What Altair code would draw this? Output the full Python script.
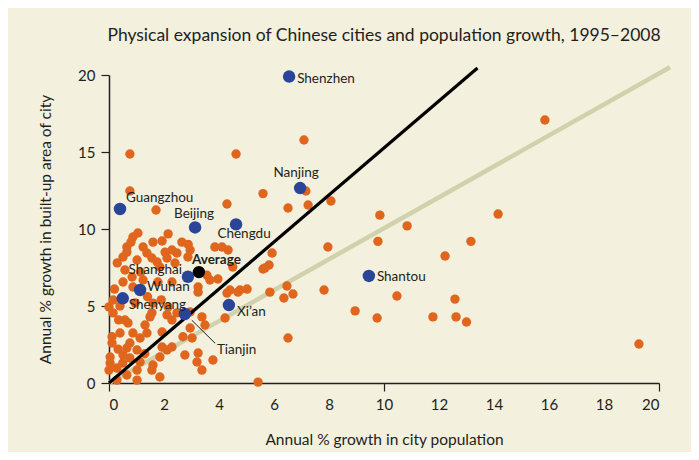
import altair as alt
import pandas as pd

# ---------------- data ----------------
orange_x = [7.09, 7.16, 6.51, 7.24, 8.07, 9.85, 10.84, 9.78, 7.96, 13.16, 12.22, 6.47, 6.69, 6.36, 7.82,
            10.47, 12.58, 8.95, 9.75, 11.78, 12.62, 13.0, 6.51, 15.85, 14.15, 19.27, 4.62, 5.6, 5.93, 5.82,
            5.6, 5.02, 4.76, 5.85, 5.42, 0.76, 0.76, 1.71, 4.29,
            1.05, 0.87, 0.8, 0.65, 0.65, 0.51, 1.24, 1.6, 2.15, 1.93, 2.65, 2.04, 2.29, 2.47, 1.38, 1.56,
            1.02, 1.75, 1.85, 2.11, 2.4, 0.58, 0.84, 0.51, 1.24, 1.78, 2.29, 0.87, 0.15,
            2.95, 2.87, 3.85, 4.11, 4.33, 4.5, 3.56, 3.67, 3.96, 3.24, 3.24, 4.69, 4.4, 5.67,
            0.58, 0.11, 0.11, 0.87, 1.13, 1.38, 0.76, 0.65, 1.02, 0.51, 0.04, 0.04, 0.0, 0.29, 0.76, 1.13,
            1.02, 0.65, 1.02, 0.29, 1.6, 1.56, 1.85, 1.93, 2.11, 2.29, 1.85, 2.29, 2.11, 1.93, 1.49, 1.31,
            0.69, 0.15, 0.0, 2.76, 2.69,
            3.38, 3.49, 2.95, 3.02, 3.24, 3.2, 3.78, 3.38, 4.22,
            1.56, 1.6, 2.15, 2.47, 4.29, 2.95, 0.4, 0.33, 1.3, 0.5, 0.4, 0.95, 1.4, 2.88, 0.35,
            0.3, 1.15, 1.9, 0.2]
orange_y = [15.78, 12.47, 11.36, 11.56, 11.82, 10.9, 10.2, 9.2, 8.83, 9.2, 8.25, 6.3, 5.78, 5.52, 6.04,
            5.65, 5.45, 4.68, 4.22, 4.29, 4.29, 3.96, 2.92, 17.08, 10.97, 2.53, 14.87, 12.3, 8.44, 7.66,
            7.4, 6.1, 6.04, 5.9, 0.06, 14.87, 12.47, 11.23, 11.62,
            9.74, 9.48, 9.15, 8.83, 8.5, 8.18, 8.83, 9.15, 9.68, 9.22, 9.15, 8.5, 8.64, 8.44, 8.44, 8.12,
            7.99, 7.86, 7.53, 8.12, 7.79, 7.34, 6.88, 6.56, 6.69, 6.56, 6.56, 6.23, 5.39,
            8.64, 8.18, 8.83, 8.83, 8.64, 7.53, 7.0, 6.69, 6.75, 6.23, 5.9, 5.9, 6.04, 7.47,
            4.09, 3.0, 2.6, 3.25, 2.92, 3.25, 2.6, 2.27, 2.14, 1.82, 1.69, 1.3, 0.84, 0.97, 1.62, 1.36,
            0.84, 0.52, 0.19, 0.19, 1.17, 0.84, 1.69, 2.34, 2.14, 2.34, 0.39, 4.09, 4.42, 3.31, 4.29, 3.77,
            3.9, 4.55, 4.94, 1.82, 3.0,
            4.29, 3.77, 3.57, 2.92, 1.95, 1.36, 1.49, 0.84, 4.22,
            4.55, 5.19, 4.94, 4.55, 5.84, 4.61, 3.25, 2.2, 1.9, 1.3, 5.0, 5.2, 5.6, 9.0, 4.1,
            7.8, 7.2, 5.4, 6.1]

city_names = ["Shenzhen", "Nanjing", "Guangzhou", "Beijing", "Chengdu", "Shanghai",
              "Wuhan", "Shenyang", "Xi\u2019an", "Tianjin", "Shantou"]
city_x = [6.55, 6.95, 0.4, 3.13, 4.62, 2.87, 1.13, 0.5, 4.36, 2.76, 9.45]
city_y = [19.9, 12.66, 11.3, 10.1, 10.3, 6.9, 6.04, 5.5, 5.06, 4.48, 6.95]

avg_name = ["Average"]
avg_x = [3.27]
avg_y = [7.2]

fit_x = [0, 13.4]          # black regression line end points
fit_y = [0, 20.45]
equal_x = [0, 20.4]        # equal-growth line end points
equal_y = [0, 20.5]

x_tick_labels = list(range(0, 21, 2))
y_tick_labels = [0, 5, 10, 15, 20]

# ---------------- styling ----------------
FONT = "Lato"
INK = "#231f20"
ORANGE = "#e0661e"
BLUE = "#2a4597"
BG = "#f3f0de"

orange_df = pd.DataFrame({"x": orange_x, "y": orange_y})
city_df = pd.DataFrame({"name": city_names, "x": city_x, "y": city_y})
avg_df = pd.DataFrame({"name": avg_name, "x": avg_x, "y": avg_y})
fit_df = pd.DataFrame({"x": fit_x, "y": fit_y})
eq_df = pd.DataFrame({"x": equal_x, "y": equal_y})

xscale = alt.Scale(domain=[0, 20], nice=False, zero=False)
yscale = alt.Scale(domain=[0, 20], nice=False, zero=False)

x_axis = alt.Axis(values=x_tick_labels, title="Annual % growth in city population",
                  tickSize=8, tickColor=INK, tickWidth=1.2,
                  tickOpacity={"condition": {"test": "datum.value % 10 === 0", "value": 1}, "value": 0},
                  domainColor=INK, domainWidth=1.5, labelPadding=6, labelFontSize=15,
                  labelColor=INK, labelFont=FONT, titleFont=FONT, titleFontSize=15.5,
                  titleFontWeight="normal", titleColor=INK, titlePadding=20, grid=False)
y_axis = alt.Axis(values=y_tick_labels, title="Annual % growth in built-up area of city",
                  tickSize=8, tickColor=INK, tickWidth=1.2, domainColor=INK, domainWidth=1.5,
                  labelPadding=6, labelFontSize=15, labelColor=INK, labelFont=FONT,
                  titleFont=FONT, titleFontSize=15.5, titleFontWeight="normal", titleColor=INK,
                  titlePadding=24, grid=False)


def X(field="x:Q"):
    return alt.X(field, scale=xscale, axis=x_axis)


def Y(field="y:Q"):
    return alt.Y(field, scale=yscale, axis=y_axis)


eq_line = alt.Chart(eq_df).mark_line(color="#cfd2ab", strokeWidth=4.5).encode(x=X(), y=Y())

orange = alt.Chart(orange_df).mark_circle(color=ORANGE, opacity=1, size=88).encode(x=X(), y=Y())

fit_line = alt.Chart(fit_df).mark_line(color="black", strokeWidth=3.2).encode(x=X(), y=Y())

cities = alt.Chart(city_df).mark_circle(color=BLUE, opacity=1, size=155).encode(x=X(), y=Y())
avg_pt = alt.Chart(avg_df).mark_circle(color="black", opacity=1, size=155).encode(x=X(), y=Y())

# label placement (align, dx, dy)
label_place = {
    "Shenzhen": ("left", 8, 2),
    "Nanjing": ("center", -4, -15),
    "Guangzhou": ("left", 6, -11),
    "Beijing": ("center", -1, -13),
    "Chengdu": ("center", 8, 10),
    "Shanghai": ("right", -6, -7),
    "Wuhan": ("left", 7, -3),
    "Shenyang": ("left", 6, 7),
    "Xi\u2019an": ("left", 8, 7),
    "Tianjin": ("left", 32, 36),
    "Shantou": ("left", 8, 1),
}

labels = []
for name in city_names:
    al, dx, dy = label_place[name]
    labels.append(
        alt.Chart(city_df).transform_filter(alt.datum.name == name)
        .mark_text(align=al, baseline="middle", dx=dx, dy=dy, font=FONT, fontSize=13.5, color=INK)
        .encode(x=X(), y=Y(), text="name:N")
    )

avg_label = alt.Chart(avg_df).mark_text(align="left", baseline="middle", dx=-7, dy=-12, font=FONT,
                                        fontSize=13.5, fontWeight="bold", color=INK).encode(
    x=X(), y=Y(), text="name:N")

# leader line from Tianjin to its label
leader = (alt.Chart(city_df).transform_filter(alt.datum.name == "Tianjin")
          .transform_calculate(x0="datum.x + 0.25", y0="datum.y - 0.4",
                               x1="datum.x + 1.1", y1="datum.y - 1.9")
          .mark_rule(color=INK, strokeWidth=1)
          .encode(x=X("x0:Q"), y=Y("y0:Q"), x2="x1:Q", y2="y1:Q"))

chart = alt.layer(eq_line, orange, fit_line, cities, avg_pt, leader, avg_label, *labels).properties(
    width=550, height=308,
    autosize=alt.AutoSizeParams(type="none"),
    padding={"left": 101, "top": 67, "right": 32, "bottom": 69},
    background=BG,
    title=alt.TitleParams("Physical expansion of Chinese cities and population growth, 1995\u20132008",
                          font=FONT, fontSize=17.5, fontWeight="normal", color=INK, anchor="middle",
                          offset=14),
).configure_view(stroke=None)

chart.save("out.html", embed_options={"renderer": "svg", "actions": False})
